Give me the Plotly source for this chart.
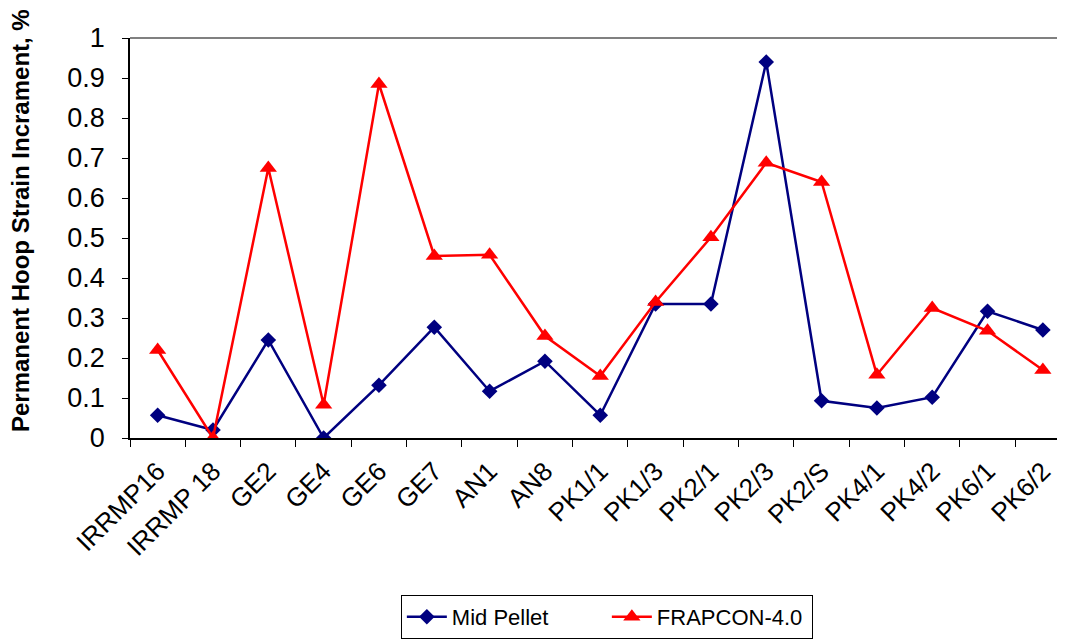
import plotly.graph_objects as go

categories = ["IRRMP16", "IRRMP 18", "GE2", "GE4", "GE6", "GE7", "AN1", "AN8",
              "PK1/1", "PK1/3", "PK2/1", "PK2/3", "PK2/S", "PK4/1", "PK4/2",
              "PK6/1", "PK6/2"]
mid_pellet = [0.057, 0.02, 0.245, 0.0, 0.132, 0.277, 0.117, 0.192,
              0.057, 0.335, 0.335, 0.94, 0.093, 0.075, 0.102, 0.317, 0.27]
frapcon = [0.22, 0.0, 0.675, 0.083, 0.885, 0.455, 0.458, 0.255,
           0.155, 0.34, 0.502, 0.688, 0.64, 0.158, 0.325, 0.268, 0.17]

FONT = "Liberation Sans, Arial, sans-serif"

fig = go.Figure()
fig.add_trace(go.Scatter(
    x=categories, y=mid_pellet, name="Mid Pellet", mode="lines+markers",
    line=dict(color="#000080", width=2.5),
    marker=dict(symbol="diamond", size=12, color="#000080"),
))
fig.add_trace(go.Scatter(
    x=categories, y=frapcon, name="FRAPCON-4.0", mode="lines+markers",
    line=dict(color="#ff0000", width=2.5),
    marker=dict(symbol="triangle-up", size=15, color="#ff0000"),
))

# gray plot-area border on top
fig.add_shape(type="line", xref="paper", yref="paper", x0=0, x1=1, y0=1, y1=1,
              line=dict(color="#808080", width=2))

# y-axis title placed as in the original (slightly above plot centre)
fig.add_annotation(
    text="<b>Permanent Hoop Strain Incrament, %</b>",
    xref="paper", yref="paper", x=-0.1176, y=0.5425,
    xanchor="center", yanchor="middle", textangle=-90, showarrow=False,
    font=dict(size=24, color="black"),
)

# page has an 8px body margin, so the figure is 8px smaller than the window
fig.update_layout(
    width=1057, height=634,
    plot_bgcolor="white", paper_bgcolor="white",
    margin=dict(l=122, r=0, t=30, b=204),
    font=dict(family=FONT, size=24, color="black"),
    showlegend=True,
    legend=dict(orientation="h", xanchor="center", x=0.51, yanchor="top", y=-0.3925,
                bordercolor="black", borderwidth=1, font=dict(size=22),
                itemwidth=40, entrywidth=150, tracegroupgap=0),
)
fig.update_xaxes(
    type="category", range=[-0.5, 16.4], tickangle=-45,
    showline=True, linecolor="black", linewidth=1.5,
    ticks="outside", tickson="boundaries", ticklen=7, tickcolor="black",
    tickfont=dict(size=26), ticklabelstandoff=6,
    showgrid=False, zeroline=False, automargin=False,
)
fig.update_yaxes(
    range=[0, 1], dtick=0.1,
    showline=True, linecolor="black", linewidth=1.5,
    ticks="outside", ticklen=6, tickcolor="black",
    tickfont=dict(size=27), ticklabelstandoff=12,
    showgrid=False, zeroline=False, automargin=False,
)

fig.write_html("out.html")
